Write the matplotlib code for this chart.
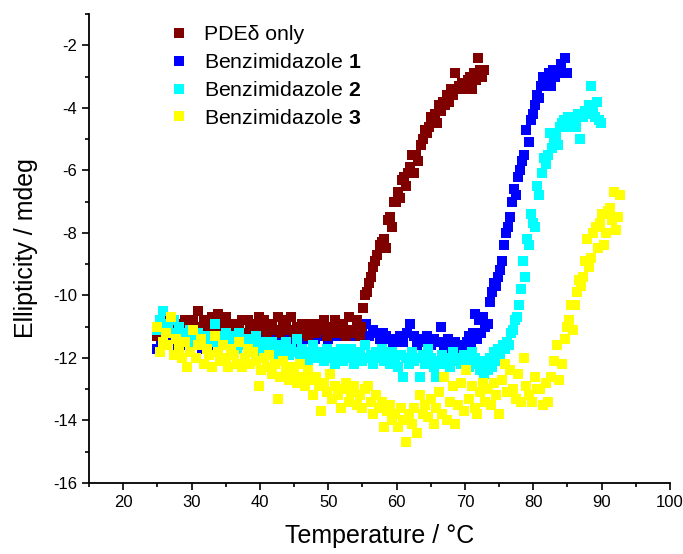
import matplotlib
matplotlib.use('Agg')
import matplotlib.pyplot as plt
from matplotlib.ticker import MultipleLocator

plt.rcParams['font.family'] = ['Liberation Sans', 'DejaVu Sans']
plt.rcParams['mathtext.fontset'] = 'custom'
plt.rcParams['mathtext.rm'] = 'Liberation Sans'
plt.rcParams['mathtext.bf'] = 'Liberation Sans:bold'
plt.rcParams['axes.unicode_minus'] = False

## data #########################################################################
pde_t = [25.0,25.4,25.8,26.2,26.6,27.0,27.4,27.8,28.2,28.6,
         29.0,29.4,29.8,30.2,30.6,31.0,31.4,31.8,32.2,32.6,
         33.0,33.4,33.8,34.2,34.6,35.0,35.4,35.8,36.2,36.6,
         37.0,37.4,37.8,38.2,38.6,39.0,39.4,39.8,40.2,40.6,
         41.0,41.4,41.8,42.2,42.6,43.0,43.4,43.8,44.2,44.6,
         45.0,45.4,45.8,46.2,46.6,47.0,47.4,47.8,48.2,48.6,
         49.0,49.4,49.8,50.2,50.6,51.0,51.4,51.8,52.2,52.6,
         53.0,53.4,53.8,54.2,54.6,
         54.8,55.1,55.4,55.7,56.0,56.3,56.6,56.9,57.2,57.5,
         57.8,58.1,58.4,58.7,59.0,59.3,59.6,59.9,60.2,60.5,
         60.8,61.1,61.4,61.7,62.0,62.3,62.6,62.9,63.2,63.5,
         63.8,64.1,64.4,64.7,65.0,65.3,65.6,65.9,66.2,66.5,
         66.8,67.1,67.4,67.7,68.0,68.3,68.6,68.9,69.2,69.5,
         69.8,70.1,70.4,70.7,71.0,71.3,71.6,71.9,72.2,72.5,
         72.8]
pde_y = [-11.3,-10.8,-10.6,-10.9,-10.7,-11.0,-10.8,-11.1,-10.9,-11.2,
         -10.8,-11.1,-11.0,-10.8,-11.2,-10.5,-11.0,-10.8,-11.1,-10.9,
         -10.7,-11.1,-10.6,-11.0,-10.9,-10.7,-11.2,-11.0,-10.9,-11.1,
         -11.0,-10.8,-11.2,-10.8,-11.0,-11.1,-10.9,-10.7,-11.1,-10.8,
         -11.2,-11.0,-10.9,-11.1,-10.7,-11.2,-11.0,-10.8,-11.1,-10.7,
         -11.2,-11.0,-11.2,-10.9,-11.1,-11.3,-10.9,-11.0,-11.2,-10.9,
         -11.1,-10.8,-11.3,-11.0,-11.2,-10.8,-11.1,-11.2,-10.9,-11.3,
         -10.7,-11.1,-11.2,-10.8,-11.3,
         -11.0,-10.4,-10.0,-9.9,-9.6,-9.4,-9.1,-8.9,-8.7,-8.4,
         -8.3,-8.2,-8.5,-7.6,-7.5,-7.8,-7.0,-7.0,-6.7,-6.9,
         -6.3,-6.2,-6.5,-6.1,-5.9,-5.5,-6.1,-5.5,-5.7,-5.2,
         -5.0,-4.7,-4.8,-4.6,-4.3,-4.4,-4.2,-4.5,-3.9,-4.1,
         -3.8,-3.9,-3.6,-3.8,-3.4,-3.6,-2.9,-3.4,-3.3,-3.2,
         -3.4,-3.2,-3.1,-3.0,-3.4,-2.9,-3.1,-2.4,-2.8,-3.0,
         -2.8]

b1_t = [25.0,25.5,26.0,26.5,27.0,27.5,28.0,28.5,29.0,29.5,
        30.0,30.5,31.0,31.5,32.0,32.5,33.0,33.5,34.0,34.5,
        35.0,35.5,36.0,36.5,37.0,37.5,38.0,38.5,39.0,39.5,
        40.0,40.5,41.0,41.5,42.0,42.5,43.0,43.5,44.0,44.5,
        45.0,45.5,46.0,46.5,47.0,47.5,48.0,48.5,49.0,49.5,
        50.0,50.5,51.0,51.5,52.0,52.5,53.0,53.5,54.0,54.5,
        55.0,55.5,56.0,56.5,57.0,57.5,58.0,58.5,59.0,59.5,
        60.0,60.5,61.0,61.5,62.0,62.5,63.0,63.5,64.0,64.5,
        65.0,65.5,66.0,66.5,67.0,67.5,68.0,68.5,69.0,69.5,
        70.0,
        70.3,70.6,70.9,71.2,71.5,71.8,72.1,72.4,72.7,73.0,
        73.3,73.6,73.9,74.2,74.5,74.8,75.1,75.4,75.7,76.0,
        76.3,76.6,76.9,77.2,77.5,77.8,78.1,78.4,78.7,79.0,
        79.3,79.6,79.9,80.2,80.5,80.8,81.1,81.4,81.7,82.0,
        82.3,82.6,82.9,83.2,83.5,83.8,84.1,84.4,84.7,85.0]
b1_y = [-11.7,-11.5,-11.6,-11.4,-11.6,-11.5,-11.7,-11.4,-11.6,-11.5,
        -11.6,-11.4,-11.5,-11.7,-11.5,-11.4,-11.6,-11.5,-11.4,-11.6,
        -11.5,-11.3,-11.6,-11.4,-11.5,-11.3,-11.6,-11.4,-11.3,-11.5,
        -11.4,-11.3,-11.5,-11.4,-11.2,-11.5,-11.3,-11.4,-11.2,-11.4,
        -11.3,-11.5,-11.2,-11.4,-11.3,-11.2,-11.4,-11.3,-11.2,-11.3,
        -11.4,-11.2,-11.3,-11.1,-11.3,-11.2,-11.1,-11.3,-11.2,-11.1,
        -11.2,-10.9,-11.3,-11.1,-11.2,-11.4,-11.2,-11.3,-11.4,-11.5,
        -11.4,-11.3,-11.5,-11.2,-10.9,-11.3,-11.6,-11.4,-11.5,-11.3,
        -11.6,-11.4,-11.5,-11.0,-11.6,-11.4,-11.7,-11.5,-11.8,-11.6,
        -11.7,
        -11.5,-11.3,-11.6,-11.2,-10.6,-11.4,-10.8,-11.2,-10.7,-11.0,
        -10.9,-10.2,-9.9,-9.6,-9.7,-9.4,-9.2,-8.9,-8.4,-8.0,
        -7.8,-7.5,-7.0,-6.6,-6.8,-6.2,-6.0,-5.7,-5.5,-4.7,
        -5.1,-4.4,-4.2,-3.9,-3.6,-3.7,-3.3,-3.0,-3.2,-3.1,
        -2.9,-3.3,-2.8,-3.0,-2.8,-2.9,-2.6,-2.9,-2.4,-2.9]

b2_t = [25.0,25.4,25.8,26.2,26.6,27.0,27.4,27.8,28.2,28.6,
        29.0,29.4,29.8,30.2,30.6,31.0,31.4,31.8,32.2,32.6,
        33.0,33.4,33.8,34.2,34.6,35.0,35.4,35.8,36.2,36.6,
        37.0,37.4,37.8,38.2,38.6,39.0,39.4,39.8,40.2,40.6,
        41.0,41.4,41.8,42.2,42.6,43.0,43.4,43.8,44.2,44.6,
        45.0,45.4,45.8,46.2,46.6,47.0,47.4,47.8,48.2,48.6,
        49.0,49.4,49.8,50.2,50.6,51.0,51.4,51.8,52.2,52.6,
        53.0,53.4,53.8,54.2,54.6,55.0,55.4,55.8,56.2,56.6,
        57.0,57.4,57.8,58.2,58.6,59.0,59.4,59.8,60.2,60.6,
        61.0,61.4,61.8,62.2,62.6,63.0,63.4,63.8,64.2,64.6,
        65.0,65.4,65.8,66.2,66.6,67.0,67.4,67.8,68.2,68.6,
        69.0,69.4,69.8,70.2,70.6,71.0,71.4,71.8,
        72.2,72.5,72.8,73.1,73.4,73.7,74.0,74.3,74.6,74.9,
        75.2,75.5,75.8,76.1,76.4,76.7,77.0,77.3,77.6,77.9,
        78.2,78.5,78.8,79.1,79.4,79.7,80.0,80.3,80.6,80.9,
        81.2,81.5,81.8,82.1,82.4,82.7,83.0,83.3,83.6,83.9,
        84.2,84.5,84.8,85.1,85.4,85.7,86.0,86.3,86.6,86.9,
        87.2,87.5,87.8,88.1,88.4,88.7,89.0,89.3,89.6,89.9]
b2_y = [-11.1,-10.8,-10.5,-10.9,-11.0,-11.2,-10.8,-11.3,-11.0,-11.4,
        -11.2,-11.5,-11.1,-11.3,-11.6,-11.2,-11.4,-11.5,-11.3,-11.5,
        -11.4,-10.9,-11.6,-11.3,-11.5,-11.2,-11.6,-11.4,-11.3,-11.7,
        -11.2,-11.5,-11.6,-11.4,-11.7,-11.5,-11.3,-11.6,-11.8,-11.5,
        -11.6,-11.8,-11.5,-11.7,-11.9,-11.6,-11.8,-11.5,-11.9,-11.7,
        -11.8,-11.4,-12.0,-11.7,-11.9,-12.1,-11.8,-11.6,-12.0,-11.8,
        -11.9,-12.1,-11.7,-12.0,-11.8,-12.2,-11.9,-11.7,-12.1,-11.9,
        -12.0,-11.7,-12.2,-11.9,-11.8,-12.1,-11.6,-12.0,-11.9,-12.2,
        -11.8,-12.0,-11.7,-12.1,-11.9,-12.2,-11.8,-12.0,-12.3,-11.9,
        -12.6,-12.0,-12.2,-11.8,-12.1,-12.0,-12.6,-11.9,-12.2,-11.7,
        -12.0,-12.3,-12.6,-12.1,-11.9,-12.2,-12.0,-12.3,-11.8,-12.1,
        -12.0,-12.2,-11.9,-12.1,-12.3,-11.8,-12.0,-12.2,
        -12.4,-12.1,-12.5,-12.2,-12.4,-12.0,-12.3,-11.8,-12.1,-11.7,
        -11.9,-11.6,-11.7,-11.5,-11.6,-11.2,-11.1,-10.8,-10.7,-10.3,
        -9.8,-8.9,-9.4,-8.2,-8.4,-7.4,-7.7,-7.8,-6.5,-6.8,
        -6.1,-5.6,-5.8,-5.5,-4.8,-5.3,-5.0,-4.9,-5.2,-4.6,
        -4.5,-4.4,-4.6,-4.3,-4.5,-4.3,-4.4,-4.6,-4.2,-5.0,
        -4.3,-4.1,-4.2,-3.9,-3.3,-4.0,-4.3,-3.8,-4.4,-4.5]

b3_t = [25.0,25.4,25.8,26.2,26.6,27.0,27.4,27.8,28.2,28.6,
        29.0,29.4,29.8,30.2,30.6,31.0,31.4,31.8,32.2,32.6,
        33.0,33.4,33.8,34.2,34.6,35.0,35.4,35.8,36.2,36.6,
        37.0,37.4,37.8,38.2,38.6,39.0,39.4,39.8,40.2,40.6,
        41.0,41.4,41.8,42.2,42.6,43.0,43.4,43.8,44.2,44.6,
        45.0,45.4,45.8,46.2,46.6,47.0,47.4,47.8,48.2,48.6,
        49.0,49.4,49.8,50.2,50.6,51.0,51.4,51.8,52.2,52.6,
        53.0,53.4,53.8,54.2,54.6,55.0,55.4,55.8,56.2,56.6,
        57.0,57.4,57.8,58.2,58.6,59.0,59.4,59.8,60.2,60.6,
        61.0,61.4,61.8,62.2,62.6,63.0,63.4,63.8,64.2,64.6,
        65.0,65.4,65.8,66.2,66.6,67.0,67.4,67.8,68.2,68.6,
        69.0,69.4,69.8,70.2,70.6,71.0,71.4,71.8,72.2,72.6,
        73.0,73.4,73.8,74.2,74.6,75.0,75.4,75.8,76.2,76.6,
        77.0,77.4,77.8,78.2,78.6,79.0,79.4,79.8,80.2,80.6,
        81.0,81.4,81.8,82.2,82.6,83.0,83.4,83.8,84.2,84.6,
        84.9,85.2,85.5,85.8,86.1,86.4,86.7,87.0,87.3,87.6,
        87.9,88.2,88.5,88.8,89.1,89.4,89.7,90.0,90.3,90.6,
        90.9,91.2,91.5,91.8,92.1,92.4,92.7]
b3_y = [-11.0,-11.8,-11.5,-11.2,-11.6,-10.7,-11.9,-11.4,-11.7,-12.0,
        -11.5,-12.3,-11.8,-11.1,-12.0,-11.6,-11.4,-12.2,-11.7,-11.9,
        -12.3,-11.3,-11.8,-12.1,-11.6,-12.0,-12.3,-11.7,-11.9,-12.2,
        -11.5,-12.3,-12.0,-11.7,-12.2,-11.8,-12.1,-12.9,-12.4,-12.0,
        -12.3,-11.9,-12.5,-12.2,-13.3,-12.6,-12.1,-12.4,-12.7,-12.3,
        -12.5,-12.8,-12.2,-12.6,-12.9,-12.4,-12.7,-13.2,-12.6,-12.9,
        -13.7,-12.8,-13.1,-12.5,-13.3,-12.9,-13.2,-13.6,-13.0,-12.8,
        -13.4,-13.1,-12.9,-13.5,-13.2,-13.6,-13.0,-12.9,-13.4,-13.8,
        -13.2,-13.6,-13.4,-14.2,-13.7,-13.5,-14.0,-13.8,-14.2,-13.6,
        -14.0,-14.7,-13.8,-14.1,-13.6,-14.4,-13.2,-13.8,-13.5,-13.9,
        -13.3,-14.1,-13.6,-13.1,-13.8,-12.6,-14.0,-13.4,-12.9,-14.1,
        -13.5,-12.8,-13.7,-12.4,-13.3,-12.9,-13.6,-13.8,-13.1,-12.8,
        -13.4,-13.0,-13.5,-12.8,-13.2,-13.8,-12.7,-12.2,-13.1,-12.4,
        -13.0,-13.3,-12.5,-13.4,-12.0,-12.9,-13.2,-13.4,-12.6,-13.0,
        -13.0,-13.5,-12.8,-13.4,-12.6,-12.1,-11.6,-12.7,-12.2,-11.4,
        -11.0,-10.8,-10.3,-11.1,-10.3,-9.9,-9.5,-9.7,-9.4,-8.9,
        -8.2,-9.1,-8.8,-8.0,-7.8,-8.5,-7.7,-7.4,-8.4,-8.0,
        -7.3,-7.2,-7.6,-6.7,-7.9,-7.5,-6.8]

labels = ['PDEδ only', r'Benzimidazole $\mathbf{1}$',
          r'Benzimidazole $\mathbf{2}$', r'Benzimidazole $\mathbf{3}$']
colors = ['#800000', '#0000ff', '#00ffff', '#ffff00']

## plotting ######################################################################
fig = plt.figure(figsize=(6.83, 5.54), dpi=100)
ax = fig.add_axes([0.1303, 0.1282, 0.8507, 0.8465])

series = [(pde_t, pde_y), (b1_t, b1_y), (b2_t, b2_y), (b3_t, b3_y)]
zo = [3, 2, 4, 5]
for i in range(4):
    ax.plot(series[i][0], series[i][1], ls='none', marker='s', ms=6.8, mew=0,
            color=colors[i], label=labels[i], zorder=zo[i])

ax.set_xlim(15, 100)
ax.set_ylim(-16, -1)
ax.xaxis.set_minor_locator(MultipleLocator(5))
ax.yaxis.set_minor_locator(MultipleLocator(1))
ax.set_xticks([20, 30, 40, 50, 60, 70, 80, 90, 100])
ax.set_yticks([-16, -14, -12, -10, -8, -6, -4, -2])
ax.spines['top'].set_visible(False)
ax.spines['right'].set_visible(False)
ax.spines['left'].set_linewidth(1.3)
ax.spines['bottom'].set_linewidth(1.3)
ax.tick_params(which='major', direction='out', length=5, width=1.2, labelsize=12)
ax.tick_params(which='minor', direction='out', length=3, width=1.2)

ax.set_xlabel('Temperature / °C', fontsize=18, labelpad=10)
ax.set_ylabel('Ellipticity / mdeg', fontsize=18, labelpad=11)

lgd = ax.legend(loc='upper left', bbox_to_anchor=(0.115, 1.008), frameon=False,
                fontsize=15.3, handlelength=0.8, handletextpad=0.75,
                labelspacing=0.42, borderaxespad=0.3)

plt.savefig('out.png', dpi=100)
